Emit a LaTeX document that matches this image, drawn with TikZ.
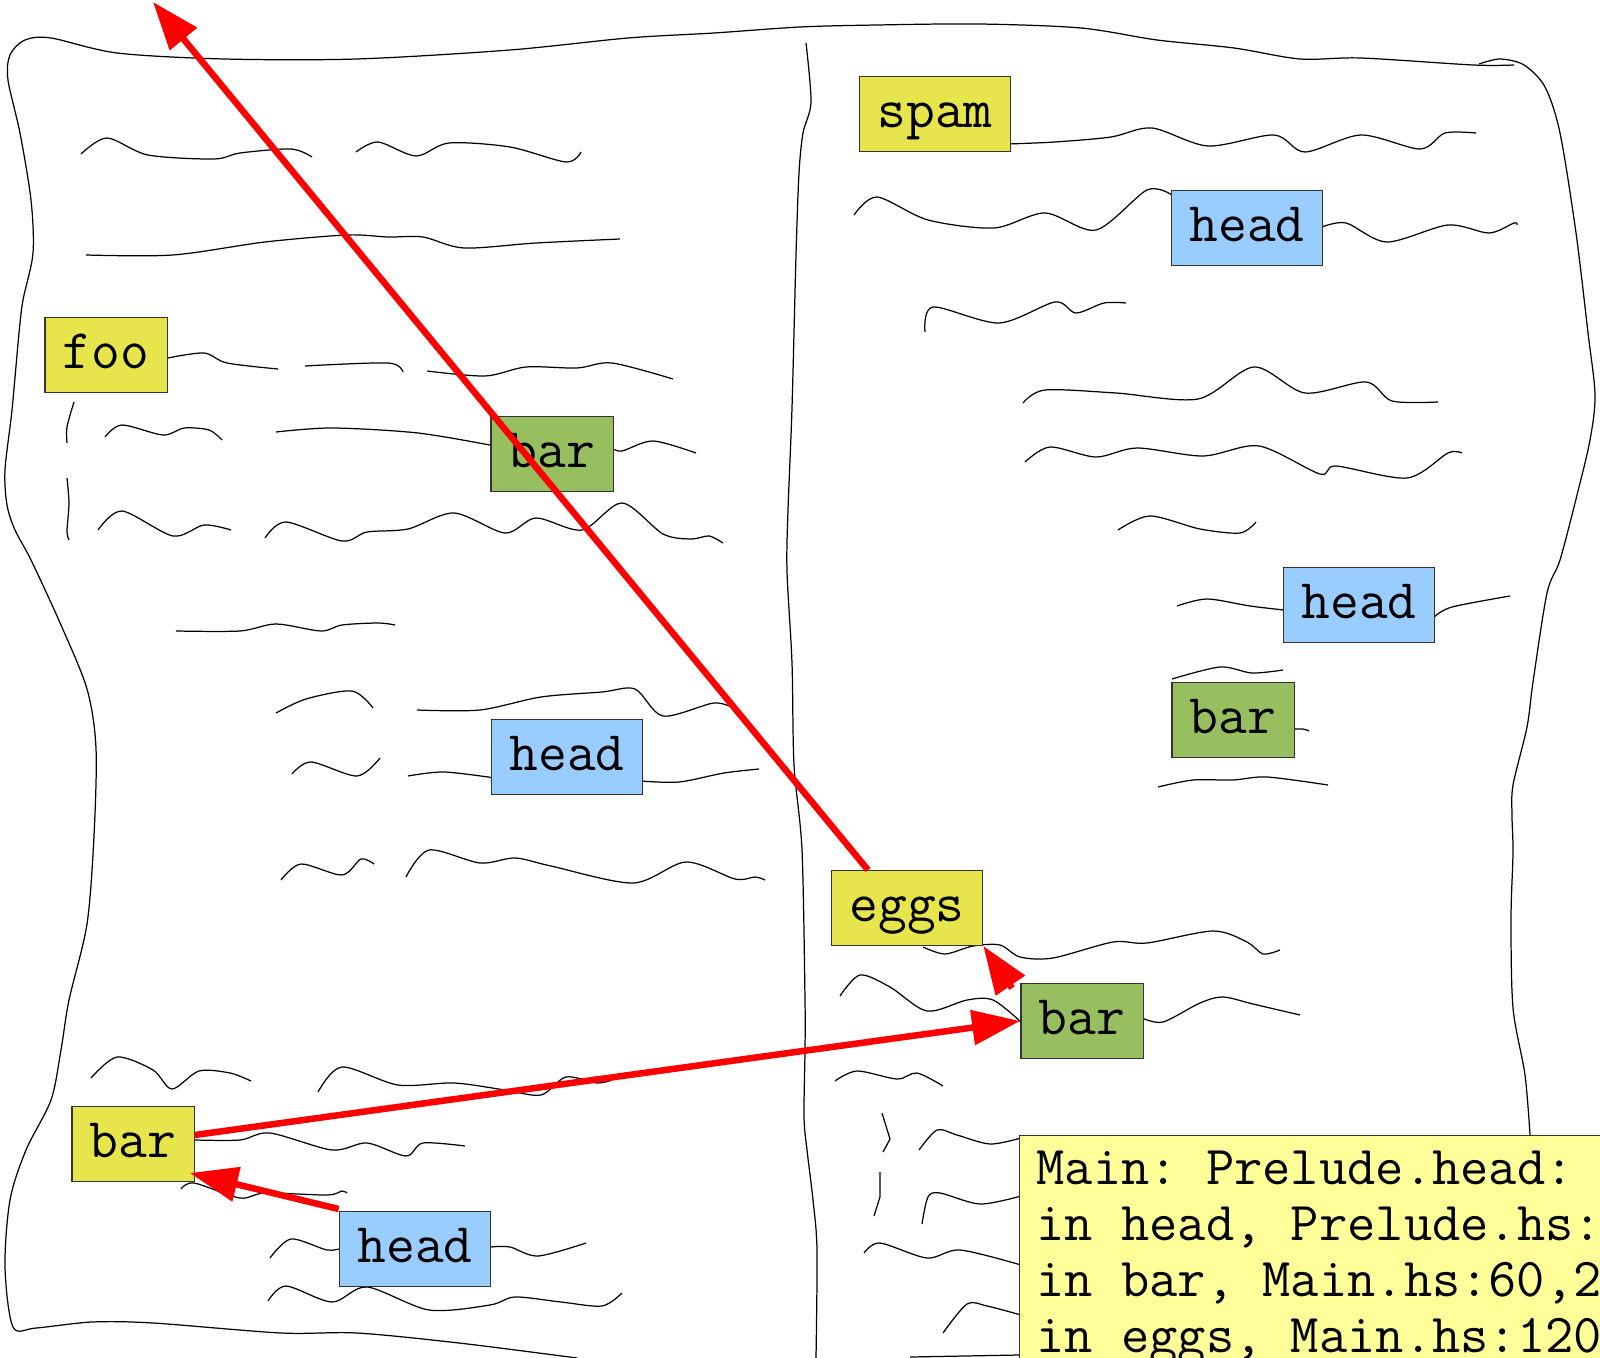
\documentclass[tikz,border=0pt]{standalone}
\usepackage{fontspec}
\usepackage{xcolor}
\usepackage{tikz}
\usetikzlibrary{arrows.meta}
\definecolor{defyel}{HTML}{E6E64C}
\definecolor{callgrn}{HTML}{97BF5F}
\definecolor{headblu}{HTML}{99CCFF}
\definecolor{errpad}{HTML}{FFFF99}
\tikzset{
  fnbox/.style   = {rectangle, draw=black!80, line width=0.4pt,
                    font=\ttfamily\fontsize{15.9}{18}\selectfont,
                    inner xsep=0.18cm, inner ysep=0pt,
                    minimum height=0.745cm,
                    text height=0.35cm, text depth=0.08cm},
  defbox/.style  = {fnbox, fill=defyel},
  callbox/.style = {fnbox, fill=callgrn},
  headbox/.style = {fnbox, fill=headblu},
  errbox/.style  = {rectangle, draw=black!80, line width=0.4pt, fill=errpad,
                    minimum width=7cm, minimum height=3cm, inner sep=0pt},
  errline/.style = {font=\ttfamily\fontsize{15.6}{18}\selectfont\frenchspacing,
                    inner sep=0pt, anchor=base west},
  trace/.style   = {-{Triangle[length=0.48cm, width=0.34cm]},
                    draw=red, line width=0.065cm},
  scrib/.style   = {line width=0.35pt},
}

\begin{document}
\begin{tikzpicture}[x=0.01cm, y=-0.01cm]
  \useasboundingbox (0,0) rectangle (1600,1358);
  \clip (0,0) rectangle (1600,1358);

  % paper outlines
  \draw[scrib] plot[smooth] coordinates {(577,1358) (459,1343) (357,1333)
    (281,1333) (153,1323) (92,1322) (36,1328) (13,1327) (5,1267) (10,1200)
    (26,1150) (51,1100) (61,1050) (69,1000) (87,924) (94,836) (96,748)
    (87,689) (61,625) (31,560) (15,530) (7,505) (5,470) (12,410) (19,333)
    (23,300) (33,253) (31,200) (20,133) (8,80) (10,55) (25,40) (51,38)
    (117,53) (224,59) (357,59) (510,50) (628,38) (714,33) (800,27) (877,25)
    (979,24) (1081,28) (1157,40) (1234,48) (1300,59) (1361,58) (1473,65)
    (1514,65)};
  \draw[scrib] plot[smooth] coordinates {(1479,64) (1500,59) (1524,65)
    (1545,87) (1560,133) (1576,233) (1588,333) (1595,395) (1590,440)
    (1577,495) (1560,560) (1547,593) (1533,682) (1527,727) (1513,785)
    (1512,816) (1513,852) (1511,919) (1513,1008) (1525,1075) (1530,1135)};
  \draw[scrib] plot[smooth] coordinates {(806,43) (811,102) (803,133)
    (799,173) (796,255) (792,408) (788,510) (787,571) (792,663) (794,765)
    (802,850) (805,1000) (805,1050) (804,1117) (807,1150) (813,1200)
    (817,1250) (816,1358)};
  \draw[scrib] (910,1357) -- (1019,1355);

  % scribbled code, left sheet
  \draw[scrib] plot[smooth] coordinates {(81,154) (107,138) (148,155)
    (214,159) (240,153) (291,149) (312,157)};
  \draw[scrib] plot[smooth] coordinates {(356,152) (378,142) (416,156)
    (449,143) (510,147) (566,162) (581,152)};
  \draw[scrib] plot[smooth] coordinates {(86,255) (173,255) (265,242)
    (347,235) (388,237) (423,237) (464,248) (536,243) (620,239)};
  \draw[scrib] plot[smooth] coordinates {(168,358) (204,353) (227,363)
    (278,369)};
  \draw[scrib] plot[smooth] coordinates {(305,366) (388,363) (403,372)};
  \draw[scrib] plot[smooth] coordinates {(427,371) (485,376) (526,367)
    (577,368) (612,363) (673,379)};
  \draw[scrib] plot[smooth] coordinates {(74,402) (67,427) (67,443)};
  \draw[scrib] plot[smooth] coordinates {(67,478) (69,503) (67,531) (69,540)};
  \draw[scrib] plot[smooth] coordinates {(105,437) (122,425) (163,435)
    (184,428) (209,430) (222,440)};
  \draw[scrib] plot[smooth] coordinates {(276,432) (332,428) (418,433)
    (495,446)};
  \draw[scrib] plot[smooth] coordinates {(612,448) (622,451) (653,441)
    (696,453)};
  \draw[scrib] plot[smooth] coordinates {(98,530) (122,511) (173,536)
    (204,525) (231,530)};
  \draw[scrib] plot[smooth] coordinates {(265,538) (286,522) (342,541)
    (367,532) (408,529) (454,513) (505,533) (536,518) (582,530) (622,503)
    (663,534) (691,539) (709,536) (723,543)};
  \draw[scrib] plot[smooth] coordinates {(176,631) (240,631) (276,624)
    (321,631) (342,625) (378,623) (395,625)};
  \draw[scrib] plot[smooth] coordinates {(276,713) (306,699) (352,691)
    (373,708)};
  \draw[scrib] plot[smooth] coordinates {(417,710) (480,710) (541,697)
    (602,692) (635,689) (663,716) (714,703) (735,709)};
  \draw[scrib] plot[smooth] coordinates {(292,774) (311,762) (357,776)
    (380,758)};
  \draw[scrib] plot[smooth] coordinates {(408,776) (444,772) (495,778)};
  \draw[scrib] plot[smooth] coordinates {(640,781) (679,782) (724,773)
    (759,769)};
  \draw[scrib] plot[smooth] coordinates {(281,880) (301,864) (342,875)
    (361,859) (374,864)};
  \draw[scrib] plot[smooth] coordinates {(406,877) (429,850) (480,863)
    (515,858) (551,866) (633,883) (686,862) (735,879) (755,877) (765,880)};
  \draw[scrib] plot[smooth] coordinates {(91,1078) (117,1057) (153,1070)
    (172,1089) (199,1071) (230,1073) (251,1081)};
  \draw[scrib] plot[smooth] coordinates {(318,1092) (342,1067) (398,1085)
    (454,1083) (505,1090) (541,1095) (566,1077) (597,1083) (612,1080)};
  \draw[scrib] plot[smooth] coordinates {(195,1140) (240,1140) (270,1133)
    (332,1150) (367,1143) (406,1156) (423,1143) (465,1146)};
  \draw[scrib] plot[smooth] coordinates {(181,1189) (194,1183) (240,1198)
    (265,1193) (327,1195) (342,1191) (347,1193)};
  \draw[scrib] plot[smooth] coordinates {(270,1258) (291,1239) (327,1250)
    (342,1248)};
  \draw[scrib] plot[smooth] coordinates {(490,1247) (510,1247) (538,1256)
    (586,1243)};
  \draw[scrib] plot[smooth] coordinates {(268,1301) (286,1286) (332,1302)
    (367,1287) (429,1310) (490,1305) (515,1297) (561,1302) (602,1306)
    (622,1293)};

  % scribbled code, right sheet
  \draw[scrib] plot[smooth] coordinates {(1008,144) (1055,142) (1111,137)
    (1152,128) (1208,146) (1274,135) (1305,152) (1361,135) (1420,149)
    (1445,133) (1476,133)};
  \draw[scrib] plot[smooth] coordinates {(854,215) (877,197) (928,220)
    (994,228) (1045,213) (1096,230) (1147,190) (1172,195)};
  \draw[scrib] plot[smooth] coordinates {(1322,227) (1346,223) (1387,242)
    (1448,225) (1489,233) (1514,223) (1517,225)};
  \draw[scrib] plot[smooth] coordinates {(925,332) (933,307) (999,323)
    (1055,302) (1076,313) (1104,303) (1126,303)};
  \draw[scrib] plot[smooth] coordinates {(1023,403) (1045,390) (1116,393)
    (1198,399) (1254,367) (1305,393) (1366,382) (1392,401) (1438,402)};
  \draw[scrib] plot[smooth] coordinates {(1025,462) (1050,447) (1096,457)
    (1137,448) (1203,456) (1259,446) (1320,474) (1336,466) (1407,478)
    (1448,453) (1462,453)};
  \draw[scrib] plot[smooth] coordinates {(1118,530) (1150,516) (1200,529)
    (1240,533) (1256,522)};
  \draw[scrib] plot[smooth] coordinates {(1177,606) (1207,599) (1250,606)
    (1284,610)};
  \draw[scrib] plot[smooth] coordinates {(1434,617) (1452,607) (1510,596)};
  \draw[scrib] plot[smooth] coordinates {(1172,679) (1220,667) (1252,673)
    (1283,670)};
  \draw[scrib] plot[smooth] coordinates {(1293,729) (1303,729) (1309,731)};
  \draw[scrib] plot[smooth] coordinates {(1158,787) (1193,780) (1233,780)
    (1267,777) (1328,785)};
  \draw[scrib] plot[smooth] coordinates {(923,947) (945,954) (973,946)
    (1000,945) (1020,957) (1053,958) (1113,942) (1147,943) (1213,931)
    (1247,942) (1263,954) (1280,950)};
  \draw[scrib] plot[smooth] coordinates {(840,996) (860,975) (890,987)
    (927,1011) (967,1000) (993,1000) (1021,1022)};
  \draw[scrib] plot[smooth] coordinates {(1142,1018) (1163,1022) (1200,1003)
    (1223,997) (1253,1004) (1300,1015)};
  \draw[scrib] plot[smooth] coordinates {(835,1081) (857,1071) (897,1079)
    (917,1073) (943,1086)};
  \draw[scrib] (882,1113) -- (890,1139) -- (883,1152);
  \draw[scrib] (880,1172) -- (880,1197) -- (874,1216);
  \draw[scrib] plot[smooth] coordinates {(919,1150) (937,1130) (957,1135)
    (990,1144) (1021,1138)};
  \draw[scrib] plot[smooth] coordinates {(922,1224) (928,1197) (940,1193)
    (980,1204) (1021,1196)};
  \draw[scrib] plot[smooth] coordinates {(864,1253) (880,1243) (927,1258)
    (960,1250) (1021,1265)};
  \draw[scrib] plot[smooth] coordinates {(943,1333) (967,1304) (987,1306)
    (1021,1315)};

  % function names
  \node[defbox]  (foo)   at (106,355)  {foo};
  \node[callbox] (barL)  at (552,454)  {bar};
  \node[headbox] (headL) at (567,757)  {head};
  \node[defbox]  (barF)  at (133,1144) {bar};
  \node[headbox] (headF) at (415,1249) {head};
  \node[defbox]  (spam)  at (935,114)  {spam};
  \node[headbox] (headS) at (1247,228) {head};
  \node[headbox] (headR) at (1359,605) {head};
  \node[callbox] (barR)  at (1233,720) {bar};
  \node[defbox]  (eggs)  at (907,908)  {eggs};
  \node[callbox] (barE)  at (1082,1021) {bar};

  % error output
  \node[errbox, anchor=north west] (err) at (1019,1135) {};
  \foreach \ln [count=\i] in {{Main: Prelude.head:}, {in head, Prelude.hs:},
      {in bar, Main.hs:60,2}, {in eggs, Main.hs:120}}
    \node[errline] at (1036,{1128+56*\i}) {\ln};

  % call chain
  \coordinate (top) at (153,2);
  \draw[trace] ([yshift=0.02cm]headF.north west)
    -- ([shift={(-0.05cm,0.09cm)}]barF.south east);
  \draw[trace] ([yshift=0.09cm]barF.east) -- (barE.west);
  \draw[trace] ([xshift=-0.08cm, yshift=-0.05cm]barE.north west)
    -- (eggs.south east);
  \draw[trace] ([xshift=-0.39cm]eggs.north) -- (top);
\end{tikzpicture}
\end{document}
